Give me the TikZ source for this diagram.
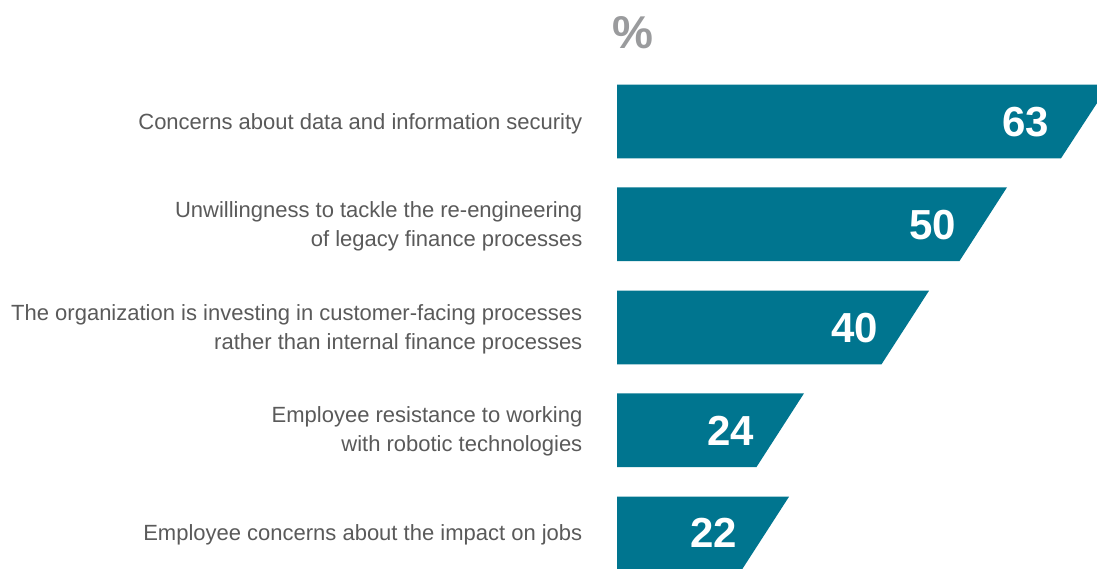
\documentclass[tikz,border=0pt]{standalone}
\usepackage{fontspec}
\setmainfont{Liberation Sans}
\definecolor{barteal}{HTML}{00758F}
\definecolor{labelgray}{HTML}{5A5A5A}
\definecolor{pctgray}{HTML}{9A9B9D}
\begin{document}
\begin{tikzpicture}[x=1pt,y=-1pt,
  lbl/.style={anchor=base east,inner sep=0pt,text=labelgray,font=\fontsize{22}{29.5}\selectfont,align=right},
  num/.style={anchor=base east,inner sep=0pt,text=white,font=\fontsize{42}{42}\selectfont\bfseries},
  bar/.style={fill=barteal}]
\useasboundingbox (0,0) rectangle (1097,568);
\clip (0,0) rectangle (1097,568);
\fill[white] (0,0) rectangle (1097,568);
% percent sign
\node[anchor=base west,inner sep=0pt,text=pctgray,font=\fontsize{46}{46}\selectfont\bfseries] (pct) at (612,48) {\%};
% bars
\fill[bar] (617,84.7) -- (1109,84.7) -- (1061,158.3) -- (617,158.3) -- cycle;
\fill[bar] (617,187.3) -- (1007,187.3) -- (959.5,261) -- (617,261) -- cycle;
\fill[bar] (617,290.7) -- (929,290.7) -- (881.5,364.3) -- (617,364.3) -- cycle;
\fill[bar] (617,393.3) -- (804,393.3) -- (756.5,467) -- (617,467) -- cycle;
\fill[bar] (617,496.7) -- (789,496.7) -- (741.5,570.3) -- (617,570.3) -- cycle;
% numbers
\node[num] (n1) at (1049,136) {63};
\node[num] (n2) at (956,239.3) {50};
\node[num] (n3) at (878,342.3) {40};
\node[num] (n4) at (754,445) {24};
\node[num] (n5) at (737,547.7) {22};
% labels
\node[lbl] (l1) at (582.5,129.3) {Concerns about data and information security};
\node[lbl,anchor=east] (l2) at (582.5,226.5) {Unwillingness to tackle the re-engineering\\of legacy finance processes};
\node[lbl,anchor=east] (l3) at (582.5,329.5) {The organization is investing in customer-facing processes\\rather than internal finance processes};
\node[lbl,anchor=east] (l4) at (582.5,431.5) {Employee resistance to working\\with robotic technologies};
\node[lbl] (l5) at (582.5,540.5) {Employee concerns about the impact on jobs};
\end{tikzpicture}
\end{document}
